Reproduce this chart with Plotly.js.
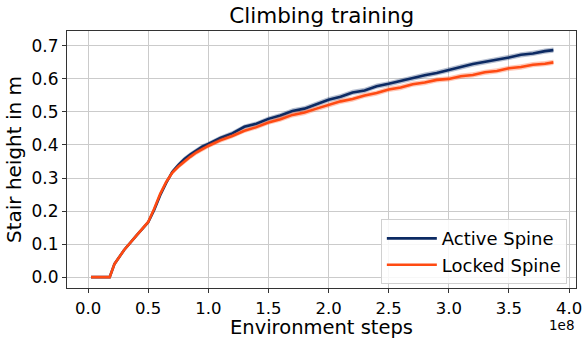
<!DOCTYPE html>
<html>
<head>
<meta charset="utf-8">
<script src="https://cdn.plot.ly/plotly-3.0.1.min.js"></script>
<style>
html,body{margin:0;padding:0;background:#fff;}
#chart{width:584px;height:339px;}
</style>
</head>
<body>
<div id="chart"></div>
<script>
// Environment steps (in units of 1e8)
const steps = [0.025, 0.1, 0.18, 0.22, 0.3, 0.4, 0.5, 0.55, 0.6, 0.65, 0.7, 0.75, 0.8, 0.85, 0.9, 0.95,
  1.0, 1.1, 1.2, 1.3, 1.4, 1.5, 1.6, 1.7, 1.8, 1.9, 2.0, 2.1, 2.2, 2.3, 2.4, 2.5, 2.6, 2.7, 2.8, 2.9,
  3.0, 3.1, 3.2, 3.3, 3.4, 3.5, 3.6, 3.7, 3.8, 3.87];
const activeMean = [0, 0, 0, 0.040, 0.082, 0.125, 0.166, 0.203, 0.248, 0.285, 0.318, 0.339, 0.357, 0.371, 0.384, 0.395,
  0.403, 0.421, 0.435, 0.455, 0.464, 0.479, 0.489, 0.503, 0.510, 0.524, 0.537, 0.546, 0.559, 0.565, 0.578, 0.585,
  0.594, 0.602, 0.611, 0.618, 0.628, 0.636, 0.645, 0.651, 0.659, 0.665, 0.673, 0.677, 0.684, 0.687];
const activeStd = [0, 0, 0, 0.003, 0.004, 0.004, 0.005, 0.005, 0.006, 0.006, 0.007, 0.007, 0.007, 0.007, 0.007, 0.007,
  0.007, 0.007, 0.007, 0.007, 0.007, 0.007, 0.008, 0.008, 0.008, 0.008, 0.008, 0.008, 0.008, 0.008, 0.008, 0.008,
  0.008, 0.008, 0.008, 0.008, 0.008, 0.008, 0.008, 0.008, 0.008, 0.008, 0.008, 0.008, 0.008, 0.008];
const lockedMean = [0, 0, 0, 0.040, 0.082, 0.125, 0.167, 0.207, 0.252, 0.288, 0.316, 0.334, 0.350, 0.364, 0.377, 0.388,
  0.397, 0.414, 0.427, 0.443, 0.454, 0.468, 0.478, 0.491, 0.498, 0.510, 0.521, 0.532, 0.539, 0.550, 0.557, 0.568,
  0.574, 0.584, 0.589, 0.597, 0.600, 0.608, 0.612, 0.620, 0.624, 0.632, 0.636, 0.643, 0.646, 0.650];
const lockedStd = [0, 0, 0, 0.003, 0.004, 0.004, 0.005, 0.005, 0.006, 0.006, 0.007, 0.007, 0.007, 0.007, 0.007, 0.007,
  0.007, 0.007, 0.007, 0.007, 0.007, 0.007, 0.008, 0.008, 0.008, 0.008, 0.008, 0.008, 0.008, 0.008, 0.008, 0.008,
  0.008, 0.008, 0.008, 0.008, 0.008, 0.008, 0.008, 0.008, 0.008, 0.008, 0.008, 0.008, 0.008, 0.008];
const seriesNames = ["Active Spine", "Locked Spine"];
const xTicks = [0.0, 0.5, 1.0, 1.5, 2.0, 2.5, 3.0, 3.5, 4.0];
const yTicks = [0.0, 0.1, 0.2, 0.3, 0.4, 0.5, 0.6, 0.7];

const blue = "#0c2a63", orange = "#ff4a12";
function band(mean, std, color) {
  const up = mean.map((m, i) => m + std[i]);
  const lo = mean.map((m, i) => m - std[i]);
  return [
    {x: steps, y: lo, mode: "lines", line: {width: 0}, showlegend: false, hoverinfo: "skip"},
    {x: steps, y: up, mode: "lines", line: {width: 0}, fill: "tonexty", fillcolor: color, showlegend: false, hoverinfo: "skip"}
  ];
}
const data = [
  ...band(activeMean, activeStd, "rgba(12,42,99,0.3)"),
  {x: steps, y: activeMean, mode: "lines", name: seriesNames[0], line: {color: blue, width: 2.6}},
  ...band(lockedMean, lockedStd, "rgba(255,74,18,0.3)"),
  {x: steps, y: lockedMean, mode: "lines", name: seriesNames[1], line: {color: orange, width: 2.6}}
];
const layout = {
  width: 584, height: 339,
  margin: {l: 67, r: 8, t: 31, b: 51},
  paper_bgcolor: "#fff", plot_bgcolor: "#fff",
  font: {family: "DejaVu Sans", size: 16.5, color: "#000"},
  title: {text: "Climbing training", font: {family: "DejaVu Sans", size: 21.5, color: "#000"}, x: 0.551, xanchor: "center", y: 0.955, yanchor: "middle"},
  xaxis: {
    range: [-0.175, 4.058], tickvals: xTicks, ticktext: xTicks.map(v => v.toFixed(1)),
    showgrid: true, gridcolor: "#cbcbcb", gridwidth: 1, zeroline: false,
    showline: true, linecolor: "#333", linewidth: 1, mirror: true,
    ticks: "outside", ticklen: 4, tickcolor: "#333", ticklabelstandoff: 1,
    tickfont: {family: "DejaVu Sans", size: 16.5, color: "#000"},
    title: {text: "Environment steps", font: {family: "DejaVu Sans", size: 19.5, color: "#000"}, standoff: 2}
  },
  yaxis: {
    range: [-0.033, 0.745], tickvals: yTicks, ticktext: yTicks.map(v => v.toFixed(1)),
    showgrid: true, gridcolor: "#cbcbcb", gridwidth: 1, zeroline: false,
    showline: true, linecolor: "#333", linewidth: 1, mirror: true,
    ticks: "outside", ticklen: 4, tickcolor: "#333",
    tickfont: {family: "DejaVu Sans", size: 17, color: "#000"},
    title: {text: "Stair height in m", font: {family: "DejaVu Sans", size: 20, color: "#000"}, standoff: 4}
  },
  legend: {
    x: 0.982, y: 0.015, xanchor: "right", yanchor: "bottom",
    traceorder: "normal", itemwidth: 50,
    bgcolor: "rgba(255,255,255,0.85)", bordercolor: "#d0d0d0", borderwidth: 1,
    font: {family: "DejaVu Sans", size: 18, color: "#000"}
  },
  annotations: [{text: "1e8", xref: "paper", yref: "paper", x: 1.0, y: -0.145, xanchor: "right", yanchor: "middle", showarrow: false, font: {family: "DejaVu Sans", size: 13.5, color: "#000"}}],
  showlegend: true
};
Plotly.newPlot("chart", data, layout, {displayModeBar: false, staticPlot: true});
</script>
</body>
</html>
